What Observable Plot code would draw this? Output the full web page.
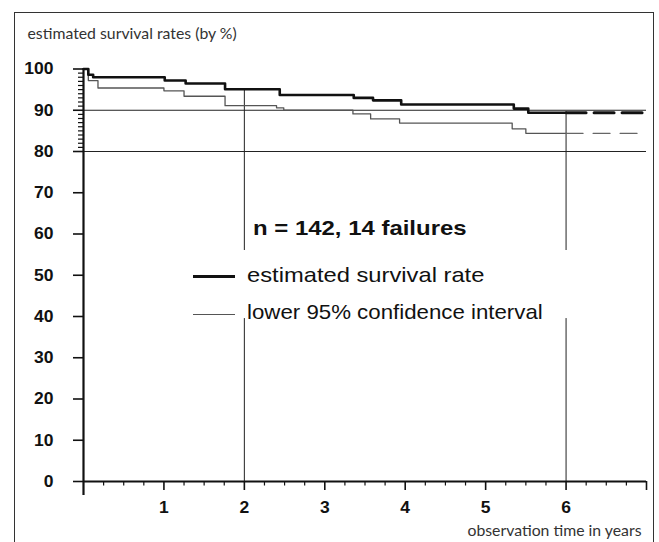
<!DOCTYPE html>
<html>
<head>
<meta charset="utf-8">
<script src="https://cdn.jsdelivr.net/npm/d3@7"></script>
<script src="https://cdn.jsdelivr.net/npm/@observablehq/plot@0.6"></script>
<style>
  html, body { margin: 0; padding: 0; background: #fff; }
  #wrap { position: relative; width: 659px; height: 542px; overflow: hidden; }
  #frame { position: absolute; left: 14px; top: 12px; width: 638px; height: 600px;
           border: 1.5px solid #333; border-bottom: none; }
  #chart { position: absolute; left: 0; top: 0; }
  .lg { position: absolute; white-space: nowrap; font-family: "Liberation Sans", Arial, sans-serif;
        color: #111; transform-origin: left center; }
  .sw { position: absolute; background: #111; }
</style>
</head>
<body>
<div id="wrap">
  <div id="frame"></div>
  <div id="chart"></div>
  <div class="lg" style="left:253px; top:217px; font-size:21px; line-height:22px; font-weight:bold; transform:scaleX(1.14);">n = 142, 14 failures</div>
  <div class="sw" style="left:193px; top:275px; width:42px; height:2.6px;"></div>
  <div class="lg" style="left:247px; top:263px; font-size:21px; line-height:24px; transform:scaleX(1.13);">estimated survival rate</div>
  <div class="sw" style="left:193px; top:314px; width:42px; height:1.2px; background:#555;"></div>
  <div class="lg" style="left:247px; top:300px; font-size:21px; line-height:24px; transform:scaleX(1.06);">lower 95% confidence interval</div>
</div>
<script>
// ---- data ----
const estTimes = [0, 0.06, 0.12, 1.01, 1.27, 1.76, 2.44, 3.36, 3.60, 3.95, 5.35, 5.53];
const estRates = [100, 98.6, 98.0, 97.2, 96.5, 95.1, 93.7, 93.0, 92.4, 91.4, 90.4, 89.4];
const ciTimes  = [0, 0.06, 0.18, 1.00, 1.25, 1.76, 2.40, 2.49, 3.35, 3.57, 3.93, 5.33, 5.50];
const ciRates  = [100, 97.2, 95.4, 94.7, 93.4, 91.1, 90.6, 90.0, 89.1, 87.9, 86.9, 85.5, 84.4];
const observedEnd = 6;      // solid line up to here
const projectedEnd = 7;     // dashed continuation
const yTicks = [0, 10, 20, 30, 40, 50, 60, 70, 80, 90, 100];
const yMinorTicks = [81,82,83,84,85,86,87,88,89,91,92,93,94,95,96,97,98,99];
const xTickLabels = [1, 2, 3, 4, 5, 6];
const gridYValues = [80, 90];
const gridXValues = [2, 6];
const gridXTop = [95.1, 89.4];
const legendGap = [39.5, 56];
const titleText = "estimated survival rates (by %)";
const xLabelText = "observation time in years";

// ---- build tables ----
const est = estTimes.map((t, i) => ({t, v: estRates[i]}));
est.push({t: observedEnd, v: estRates[estRates.length - 1]});
const ci = ciTimes.map((t, i) => ({t, v: ciRates[i]}));
ci.push({t: observedEnd, v: ciRates[ciRates.length - 1]});
const estDash = [{t: observedEnd, v: estRates[estRates.length - 1]}, {t: projectedEnd, v: estRates[estRates.length - 1]}];
const ciDash = [{t: observedEnd, v: ciRates[ciRates.length - 1]}, {t: projectedEnd, v: ciRates[ciRates.length - 1]}];
const gridSegs = [];
gridXValues.forEach((x, i) => {
  gridSegs.push({x, y1: legendGap[1], y2: gridXTop[i]});
  gridSegs.push({x, y1: 0, y2: legendGap[0]});
});
const xMinor = d3.range(0, projectedEnd, 0.25).filter(d => d % 1 !== 0);

const chart = Plot.plot({
  width: 659,
  height: 542,
  marginLeft: 83,
  marginRight: 13,
  marginTop: 68.5,
  marginBottom: 61,
  x: {domain: [0, projectedEnd]},
  y: {domain: [0, 100]},
  style: {background: "transparent", color: "#111"},
  marks: [
    Plot.ruleY(gridYValues, {stroke: "#222", strokeWidth: 1.2}),
    Plot.ruleX(gridSegs, {x: "x", y1: "y1", y2: "y2", stroke: "#222", strokeWidth: 1}),
    Plot.line(ci, {x: "t", y: "v", curve: "step-after", stroke: "#555", strokeWidth: 1.3}),
    Plot.line(ciDash, {x: "t", y: "v", stroke: "#666", strokeWidth: 1.3, strokeDasharray: "17,10"}),
    Plot.line(est, {x: "t", y: "v", curve: "step-after", stroke: "#111", strokeWidth: 2.6}),
    Plot.line(estDash, {x: "t", y: "v", stroke: "#111", strokeWidth: 3, strokeDasharray: "20,8"}),
    // axes
    Plot.ruleY([0], {stroke: "#111", strokeWidth: 2.2}),
    Plot.ruleX([0], {y1: -3.4, y2: 100, stroke: "#111", strokeWidth: 2.2}),
    Plot.axisY(yTicks, {tickSize: 10, tickPadding: 20, strokeWidth: 1.6, fontSize: 16.5}),
    Plot.axisY(yMinorTicks, {tickSize: 5, strokeWidth: 1.2, text: null}),
    Plot.axisX(xTickLabels, {tickSize: 9, tickPadding: 11, strokeWidth: 1.6, fontSize: 16.5}),
    Plot.axisX([projectedEnd], {tickSize: 9, strokeWidth: 1.6, text: null}),
    Plot.axisX(xMinor, {tickSize: 4.5, strokeWidth: 1.2, text: null}),
    // title and axis label
    Plot.text([titleText], {frameAnchor: "top-left", dx: -56, dy: -35.5, textAnchor: "start", lineAnchor: "middle",
      fontFamily: "Lato, 'Open Sans', sans-serif", fontSize: 15.8, fill: "#333"}),
    Plot.text([xLabelText], {frameAnchor: "bottom-right", dx: -5, dy: 49, textAnchor: "end", lineAnchor: "middle",
      fontFamily: "Lato, 'Open Sans', sans-serif", fontSize: 15.8, fill: "#333"})
  ]
});
document.getElementById("chart").appendChild(chart);
// tick label typography, slightly widened as in the reference
chart.querySelectorAll("g[aria-label='y-axis tick label'], g[aria-label='x-axis tick label']").forEach(g => {
  g.setAttribute("font-family", "Liberation Sans, Arial, sans-serif");
  g.setAttribute("font-weight", "bold");
  g.setAttribute("font-size", "16.5");
  g.querySelectorAll("text").forEach(el => {
    el.setAttribute("font-size", "16.5");
    const tr = el.getAttribute("transform") || "";
    el.setAttribute("transform", tr + " scale(1.06,1)");
  });
});
</script>
</body>
</html>
